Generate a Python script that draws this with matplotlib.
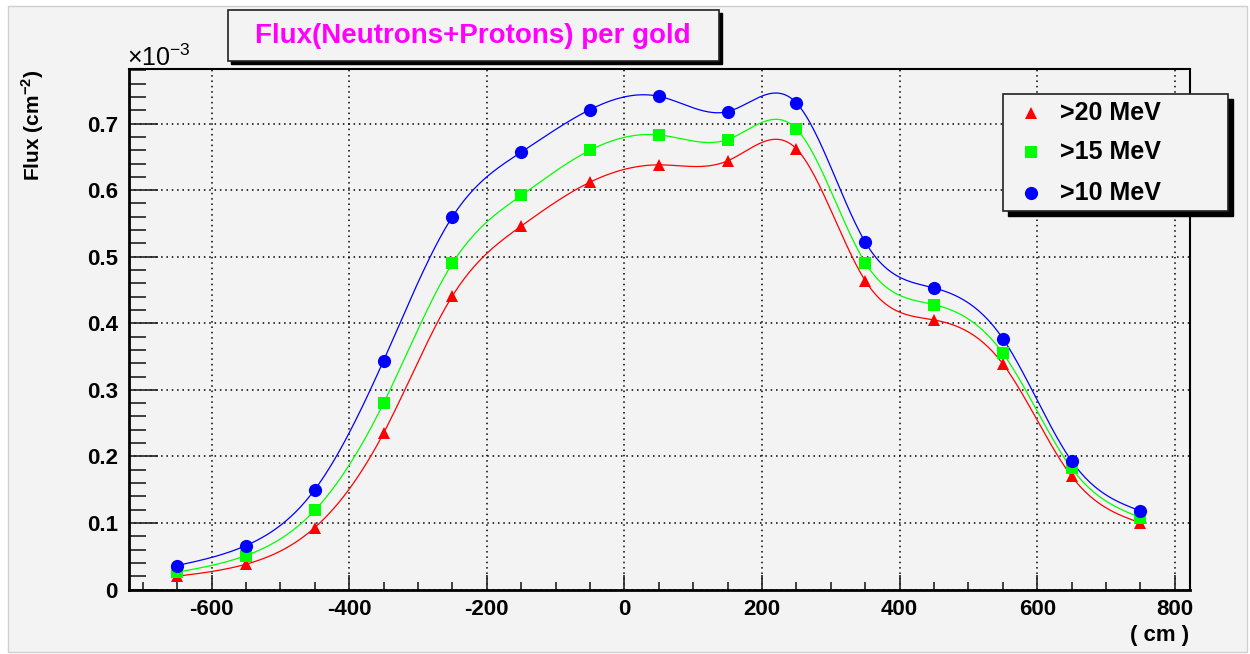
import numpy as np
import matplotlib
matplotlib.use('Agg')
import matplotlib.pyplot as plt
from matplotlib.patches import Rectangle
from matplotlib.lines import Line2D
from matplotlib.ticker import MultipleLocator, FuncFormatter

plt.rcParams['font.family'] = ['Liberation Sans', 'DejaVu Sans']
plt.rcParams['axes.unicode_minus'] = False
plt.rcParams['mathtext.fontset'] = 'custom'
plt.rcParams['mathtext.rm'] = 'Liberation Sans'
plt.rcParams['mathtext.bf'] = 'Liberation Sans:bold'

# positions along the detector (cm)
pos = [-650, -550, -450, -350, -250, -150, -50, 50, 150, 250, 350, 450, 550, 650, 750]

# flux in units of 1e-3 cm^-2
flux_20 = [0.020, 0.038, 0.093, 0.235, 0.441, 0.546, 0.612, 0.638, 0.644, 0.662,
           0.464, 0.405, 0.339, 0.170, 0.100]
flux_15 = [0.026, 0.051, 0.119, 0.280, 0.490, 0.592, 0.660, 0.683, 0.676, 0.692,
           0.491, 0.428, 0.355, 0.182, 0.108]
flux_10 = [0.036, 0.066, 0.150, 0.344, 0.560, 0.657, 0.721, 0.741, 0.718, 0.731,
           0.522, 0.453, 0.377, 0.193, 0.118]

labels = ['>20 MeV', '>15 MeV', '>10 MeV']
colors = ['#ff0000', '#00ff00', '#0000ff']
markers = ['^', 's', 'o']
msizes = [8.5, 9, 9.5]

W, H = 1250, 654
BG = '#f3f3f3'


def spline(x, y, n=400):
    # natural cubic spline, like ROOT's smooth "C" drawing
    x = np.asarray(x, float)
    y = np.asarray(y, float)
    k = len(x)
    h = np.diff(x)
    A = np.zeros((k, k))
    b = np.zeros(k)
    A[0, 0] = A[-1, -1] = 1
    for i in range(1, k - 1):
        A[i, i - 1] = h[i - 1]
        A[i, i] = 2 * (h[i - 1] + h[i])
        A[i, i + 1] = h[i]
        b[i] = 6 * ((y[i + 1] - y[i]) / h[i] - (y[i] - y[i - 1]) / h[i - 1])
    m = np.linalg.solve(A, b)
    xs = np.linspace(x[0], x[-1], n)
    idx = np.clip(np.searchsorted(x, xs) - 1, 0, k - 2)
    x0, x1 = x[idx], x[idx + 1]
    hh = x1 - x0
    t0, t1 = x1 - xs, xs - x0
    ys = (m[idx] * t0**3 + m[idx + 1] * t1**3) / (6 * hh) \
        + (y[idx] / hh - m[idx] * hh / 6) * t0 \
        + (y[idx + 1] / hh - m[idx + 1] * hh / 6) * t1
    return xs, ys


def fx(px):
    return px / W


def fy(py):
    return 1 - py / H


fig = plt.figure(figsize=(12.5, 6.54), dpi=100, facecolor='white')
fig.add_artist(Rectangle((fx(8), fy(652)), fx(1239), 646 / H, transform=fig.transFigure,
                         facecolor=BG, edgecolor='#d0d0d0', lw=1, zorder=0))

ax = fig.add_axes([fx(129), fy(589.5), fx(1190 - 129), (589.5 - 69) / H])
ax.set_facecolor(BG)

for ys, c, mk, ms in zip([flux_20, flux_15, flux_10], colors, markers, msizes):
    xs, yy = spline(pos, ys)
    ax.plot(xs, yy, color=c, lw=0.9, zorder=3)
    ax.plot(pos, ys, linestyle='none', marker=mk, color=c, markersize=ms,
            markeredgewidth=0, zorder=4)

ax.set_xlim(-720, 822)
ax.set_ylim(0, 0.782)
ax.xaxis.set_major_locator(MultipleLocator(200))
ax.xaxis.set_minor_locator(MultipleLocator(50))
ax.yaxis.set_major_locator(MultipleLocator(0.1))
ax.yaxis.set_minor_locator(MultipleLocator(0.02))
ax.yaxis.set_major_formatter(FuncFormatter(lambda v, p: '0' if abs(v) < 1e-9 else f'{v:.1f}'))
ax.xaxis.set_major_formatter(FuncFormatter(lambda v, p: f'{v:.0f}'))

ax.grid(True, which='major', color='black', linestyle=(0, (1, 2.5)), lw=1.1)
ax.set_axisbelow(True)
ax.tick_params(axis='both', which='both', direction='in', top=False, right=False,
               labelsize=16, width=1.2, color='#222222')
ax.tick_params(axis='y', which='major', length=21, pad=8)
ax.tick_params(axis='y', which='minor', length=12)
ax.tick_params(axis='x', which='major', length=11, pad=7)
ax.tick_params(axis='x', which='minor', length=6)
for lab in ax.get_xticklabels() + ax.get_yticklabels():
    lab.set_fontweight('bold')
for s in ax.spines.values():
    s.set_linewidth(1.5)
ax.spines['left'].set_linewidth(2)
ax.spines['bottom'].set_linewidth(2)

# axis titles
fig.text(fx(33), fy(70), 'Flux (cm$^{\\mathbf{-2}}$)', rotation=90, ha='center', va='top',
         fontsize=15, fontweight='bold')
fig.text(fx(1189), fy(636), '( cm )', ha='right', va='center', fontsize=16, fontweight='bold')
fig.text(fx(127), fy(66), '\u00d710$^{-3}$', ha='left', va='baseline', fontsize=18)

# title box with shadow
fig.add_artist(Rectangle((fx(231), fy(64)), fx(491), 51 / H, transform=fig.transFigure,
                         facecolor='black', edgecolor='black', lw=1, zorder=5))
fig.add_artist(Rectangle((fx(228), fy(61)), fx(491), 51 / H, transform=fig.transFigure,
                         facecolor=BG, edgecolor='#222222', lw=1.2, zorder=6))
fig.text(fx(473), fy(36), 'Flux(Neutrons+Protons) per gold', ha='center', va='center',
         fontsize=20, fontweight='bold', color='#ff00ff', zorder=7)

# legend box with shadow
fig.add_artist(Rectangle((fx(1008), fy(216)), fx(225), 117 / H, transform=fig.transFigure,
                         facecolor='black', edgecolor='black', lw=1, zorder=5))
fig.add_artist(Rectangle((fx(1003), fy(211)), fx(225), 117 / H, transform=fig.transFigure,
                         facecolor=BG, edgecolor='#222222', lw=1.2, zorder=6))
for row, (lab, c, mk, ms) in enumerate(zip(labels, colors, markers, msizes)):
    yrow = [113, 152, 193][row]
    fig.add_artist(Line2D([fx(1031)], [fy(yrow)], transform=fig.transFigure, marker=mk,
                          color=c, markersize=ms, markeredgewidth=0, linestyle='none', zorder=7))
    fig.text(fx(1060), fy(yrow), lab, ha='left', va='center', fontsize=18,
             fontweight='bold', zorder=7)

fig.savefig('out.png', dpi=100, facecolor=fig.get_facecolor())
